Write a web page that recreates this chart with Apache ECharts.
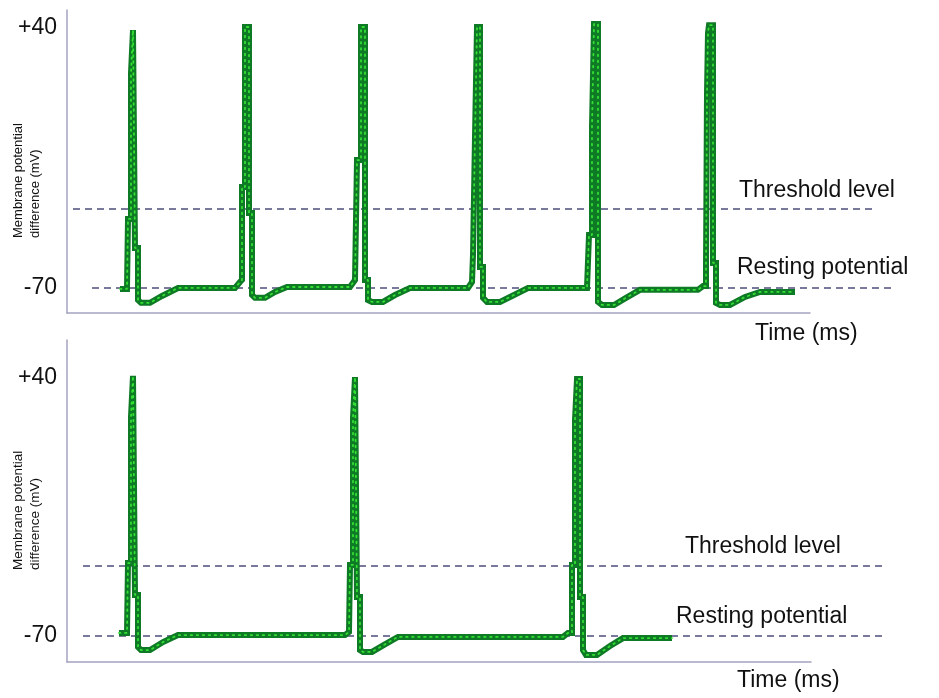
<!DOCTYPE html>
<html>
<head>
<meta charset="utf-8">
<title>Action potentials</title>
<script src="https://cdn.jsdelivr.net/npm/echarts@6.0.0/dist/echarts.min.js"></script>
<style>
  html, body { margin: 0; padding: 0; background: #fff; }
  #chart { width: 939px; height: 698px; }
</style>
</head>
<body>
<div id="chart"></div>
<script>
// membrane potential traces, [time, mV]
const topTrace = [
  [53, -70.4], [60, -70.4], [61, -40.8], [64, -40.8], [64, 20.9], [66, 20.9], [66, 39.1], [68, 39.1], [68, -53.1],
  [71, -53.1], [71, -75.1], [74, -76.3], [83, -76.3], [95, -73.4], [111, -70.0], [168, -70.0], [173, -67.5],
  [175, -66.6], [175, -27.3], [178, -27.3], [178, 40.4], [182, 40.4], [182, -38.3], [185, -38.3], [185, -73.0],
  [188, -74.2], [198, -74.2], [208, -71.7], [220, -69.6], [283, -69.6], [288, -66.6],
  [290, -66.6], [290, -15.9], [294, -15.9], [294, 40.4], [298, 40.4], [298, -66.6], [301, -66.6], [301, -75.1],
  [305, -75.9], [316, -75.9], [328, -73.0], [343, -70.0], [401, -70.0], [405, -67.5],
  [406, -67.5], [406, -56.0], [408, -56.0], [408, -6.1], [410, -6.1], [410, 40.4], [413, 40.4], [413, -61.1],
  [416, -61.1], [416, -74.2], [420, -75.9], [433, -75.9], [445, -73.4], [461, -70.0], [520, -70.0],
  [522, -70.0], [522, -47.6], [525, -47.6], [525, -1.9], [527, -1.9], [527, 41.7], [531, 41.7], [531, -75.9],
  [535, -77.2], [547, -77.2], [559, -74.2], [573, -70.8], [631, -70.8], [636, -69.2],
  [639, -69.2], [639, -61.1], [640, -61.1], [640, 12.5], [641, 12.5], [641, 37.9], [642, 37.9], [642, 41.2],
  [646, 41.2], [646, -59.4], [649, -59.4], [649, -76.3], [653, -77.2], [663, -77.2], [678, -73.8], [693, -71.7],
  [728, -71.7]
]
const bottomTrace = [
  [52, -68.7], [60, -68.7], [61, -38.9], [64, -38.9], [64, 23.4], [66, 23.4], [66, 40.9], [68, 40.9], [68, -52.5],
  [71, -52.5], [71, -74.7], [74, -76.0], [83, -76.0], [96, -72.6], [111, -69.6], [278, -69.6], [282, -68.3],
  [283, -68.3], [283, -39.7], [286, -39.7], [286, 23.0], [288, 23.0], [288, 40.4], [290, 40.4], [290, -53.4],
  [293, -53.4], [293, -76.0], [296, -76.8], [305, -76.8], [317, -73.8], [331, -70.4], [496, -70.4], [501, -68.7],
  [505, -68.7], [505, -39.7], [508, -39.7], [508, 22.1], [510, 22.1], [510, 39.6], [513, 39.6], [513, -53.4],
  [516, -53.4], [516, -76.0], [519, -78.1], [530, -78.1], [543, -74.3], [556, -70.9], [605, -70.9]
]

// reference levels (mV) and the time span of their dashed lines
const topThreshold = [[6, -36.6], [808, -36.6]]
const topResting = [[25, -70], [825, -70]]
const bottomThreshold = [[16, -40.2], [819, -40.2]]
const bottomResting = [[16, -70], [819, -70]]

// labelled ticks on the y axes
const yTicks = [40, -70]

const font = '"Liberation Sans", Arial, sans-serif'
const axisColor = '#a3a3c0'
const dashColor = '#4e4e7c'

const myChart = echarts.init(document.getElementById('chart'))

const yAxisBase = (idx, min, max, visible) => ({
  type: 'value',
  gridIndex: idx,
  min: min,
  max: max,
  show: visible,
  splitLine: { show: false },
  axisTick: { show: false },
  axisLine: { show: true, onZero: false, lineStyle: { color: axisColor, width: 1.5 } },
  axisLabel: {
    customValues: yTicks,
    formatter: v => (v > 0 ? '+' + v : String(v)),
    color: '#111',
    fontSize: 23,
    fontFamily: font,
    margin: 10
  }
})

const xAxisBase = (idx, max, visible) => ({
  type: 'value',
  gridIndex: idx,
  min: 0,
  max: max,
  show: visible,
  splitLine: { show: false },
  axisTick: { show: false },
  axisLabel: { show: false },
  axisLine: { show: true, onZero: false, lineStyle: { color: axisColor, width: 1.5 } }
})

// trace = thick dark green line with bright green dots on top
const traceSeries = (idx, data) => [
  {
    type: 'line', xAxisIndex: idx, yAxisIndex: idx, data: data,
    symbol: 'none', z: 3, silent: true,
    lineStyle: { color: '#0f7a25', width: 6, join: 'miter' }
  },
  {
    type: 'line', xAxisIndex: idx, yAxisIndex: idx, data: data,
    symbol: 'none', z: 4, silent: true,
    lineStyle: { color: '#35e035', width: 1.8, type: [1.5, 4.5], cap: 'round' }
  }
]

// dashed levels live on wider, hidden grids so they can run past the time axis
const dashSeries = (idx, data) => ({
  type: 'line', xAxisIndex: idx, yAxisIndex: idx, data: data,
  symbol: 'none', z: 2, silent: true,
  lineStyle: { color: dashColor, width: 1.5, type: [7, 5] }
})

const label = (text, left, top, size) => ({
  type: 'text',
  left: left,
  top: top,
  style: { text: text, fill: '#111', font: size + 'px ' + font }
})

const yTitle = (x, y, size) => ({
  type: 'text',
  x: x,
  y: y,
  rotation: Math.PI / 2,
  style: {
    text: 'Membrane potential\ndifference (mV)',
    fill: '#111',
    font: size + 'px ' + font,
    lineHeight: 17,
    align: 'left',
    verticalAlign: 'middle'
  }
})

const option = {
  animation: false,
  backgroundColor: '#fff',
  grid: [
    { left: 67, top: 10, width: 743, height: 303 },
    { left: 67, top: 340, width: 744, height: 322 },
    { left: 67, top: 10, width: 843, height: 303 },
    { left: 67, top: 340, width: 843, height: 322 }
  ],
  xAxis: [xAxisBase(0, 743, true), xAxisBase(1, 744, true), xAxisBase(2, 843, false), xAxisBase(3, 843, false)],
  yAxis: [
    yAxisBase(0, -80.6, 47.6, true),
    yAxisBase(1, -81.1, 56.2, true),
    yAxisBase(2, -80.6, 47.6, false),
    yAxisBase(3, -81.1, 56.2, false)
  ],
  series: [
    dashSeries(2, topThreshold),
    dashSeries(2, topResting),
    dashSeries(3, bottomThreshold),
    dashSeries(3, bottomResting),
    ...traceSeries(0, topTrace),
    ...traceSeries(1, bottomTrace)
  ],
  graphic: [
    label('Threshold level', 739, 179, 23),
    label('Resting potential', 737, 256, 23),
    label('Time (ms)', 755, 322, 23),
    label('Threshold level', 685, 535, 23),
    label('Resting potential', 676, 605, 23),
    label('Time (ms)', 737, 669, 23),
    yTitle(27, 238, 13),
    yTitle(27, 570, 13.5)
  ]
}

myChart.setOption(option)
</script>
</body>
</html>
